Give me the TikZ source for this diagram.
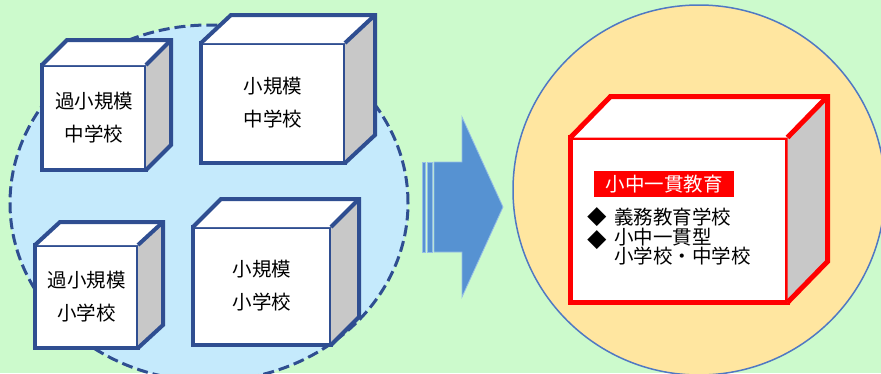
\documentclass[tikz,border=0pt]{standalone}
\usepackage{fontspec}
\setmainfont{Noto Sans CJK JP}
\usetikzlibrary{calc}

\definecolor{meadow}{RGB}{204,250,204}
\definecolor{poolblue}{RGB}{197,234,252}
\definecolor{boxblue}{RGB}{47,78,145}
\definecolor{sidegray}{RGB}{200,200,200}
\definecolor{arrowblue}{RGB}{86,146,210}
\definecolor{arrowrim}{RGB}{150,190,230}
\definecolor{sunfill}{RGB}{255,230,160}
\definecolor{rimblue}{RGB}{80,120,195}
\definecolor{boxred}{RGB}{255,0,0}

\tikzset{
  cubefront/.style={draw=boxblue, line width=4pt, fill=white, inner sep=0pt, outer sep=0pt,
    align=center, font=\fontsize{19.5}{33}\selectfont},
  cubeface/.style={line width=4pt, line join=miter},
  bullettext/.style={anchor=west, inner sep=0pt, align=left, font=\fontsize{19.5}{16}\selectfont},
  arrowpart/.style={fill=arrowblue, draw=arrowrim, line width=0.8pt},
}

% top and side of a cube whose front face is node #1, depth (#2,#3), edge colour #4, width #5
\newcommand{\cubeback}[5]{%
  \fill[white] (#1.north west) -- ++(#2,-#3) -- ($(#1.north east)+(#2,-#3)$) -- (#1.north east) -- cycle;
  \fill[sidegray] (#1.north east) -- ($(#1.north east)+(#2,-#3)$) -- ($(#1.south east)+(#2,-#3)$)
    -- (#1.south east) -- cycle;
  \draw[cubeface, draw=#4, line width=#5] (#1.north west) -- ++(#2,-#3) -- ($(#1.north east)+(#2,-#3)$)
    -- ($(#1.south east)+(#2,-#3)$) -- (#1.south east);
  \draw[cubeface, draw=#4, line width=#5] (#1.north east) -- ++(#2,-#3);
}

\begin{document}
\begin{tikzpicture}[x=1pt, y=-1pt]
  \useasboundingbox (0,0) rectangle (881,373);
  \clip (0,0) rectangle (881,373);
  \fill[meadow] (0,0) rectangle (881,373);

  % small schools
  \draw[draw=boxblue, fill=poolblue, line width=3pt, dash pattern=on 11pt off 5pt]
    (209,203) ellipse [x radius=199pt, y radius=178pt];

  \node[cubefront, minimum width=104, minimum height=105] (tinyjhs) at (94,117.5) {過小規模\\中学校};
  \cubeback{tinyjhs}{25}{25}{boxblue}{4pt}
  \node[cubefront, minimum width=144, minimum height=120] (smalljhs) at (273,103) {小規模\\中学校};
  \cubeback{smalljhs}{30}{28}{boxblue}{4pt}
  \node[cubefront, minimum width=103, minimum height=103] (tinyes) at (86.5,296.5) {過小規模\\小学校};
  \cubeback{tinyes}{25}{23}{boxblue}{4pt}
  \node[cubefront, minimum width=138, minimum height=118] (smalles) at (262,286) {小規模\\小学校};
  \cubeback{smalles}{28}{28}{boxblue}{4pt}

  % arrow
  \draw[arrowpart] (422,162) rectangle (425,252);
  \draw[arrowpart] (427,162) rectangle (432,252);
  \draw[arrowpart] (434,162) -- (462,162) -- (462,117) -- (503,207) -- (462,297)
    -- (462,252) -- (434,252) -- cycle;

  % integrated school
  \draw[draw=rimblue, fill=sunfill, line width=1.5pt]
    (699,190) ellipse [x radius=186pt, y radius=185pt];
  \node[cubefront, draw=boxred, line width=5pt, minimum width=217, minimum height=165] (unified) at (679,220) {};
  \cubeback{unified}{40}{41}{boxred}{5pt}

  \node[fill=boxred, text=white, inner sep=0pt, minimum width=140, minimum height=26,
    font=\fontsize{19.5}{20}\selectfont] (title) at (664,184) {小中一貫教育};
  \node[bullettext] (dot1) at (587,217) {◆};
  \node[bullettext] (kind1) at (614,217) {義務教育学校};
  \node[bullettext] (dot2) at (587,240) {◆};
  \node[bullettext] (kind2) at (614,247) {小中一貫型\\小学校・中学校};
\end{tikzpicture}
\end{document}
